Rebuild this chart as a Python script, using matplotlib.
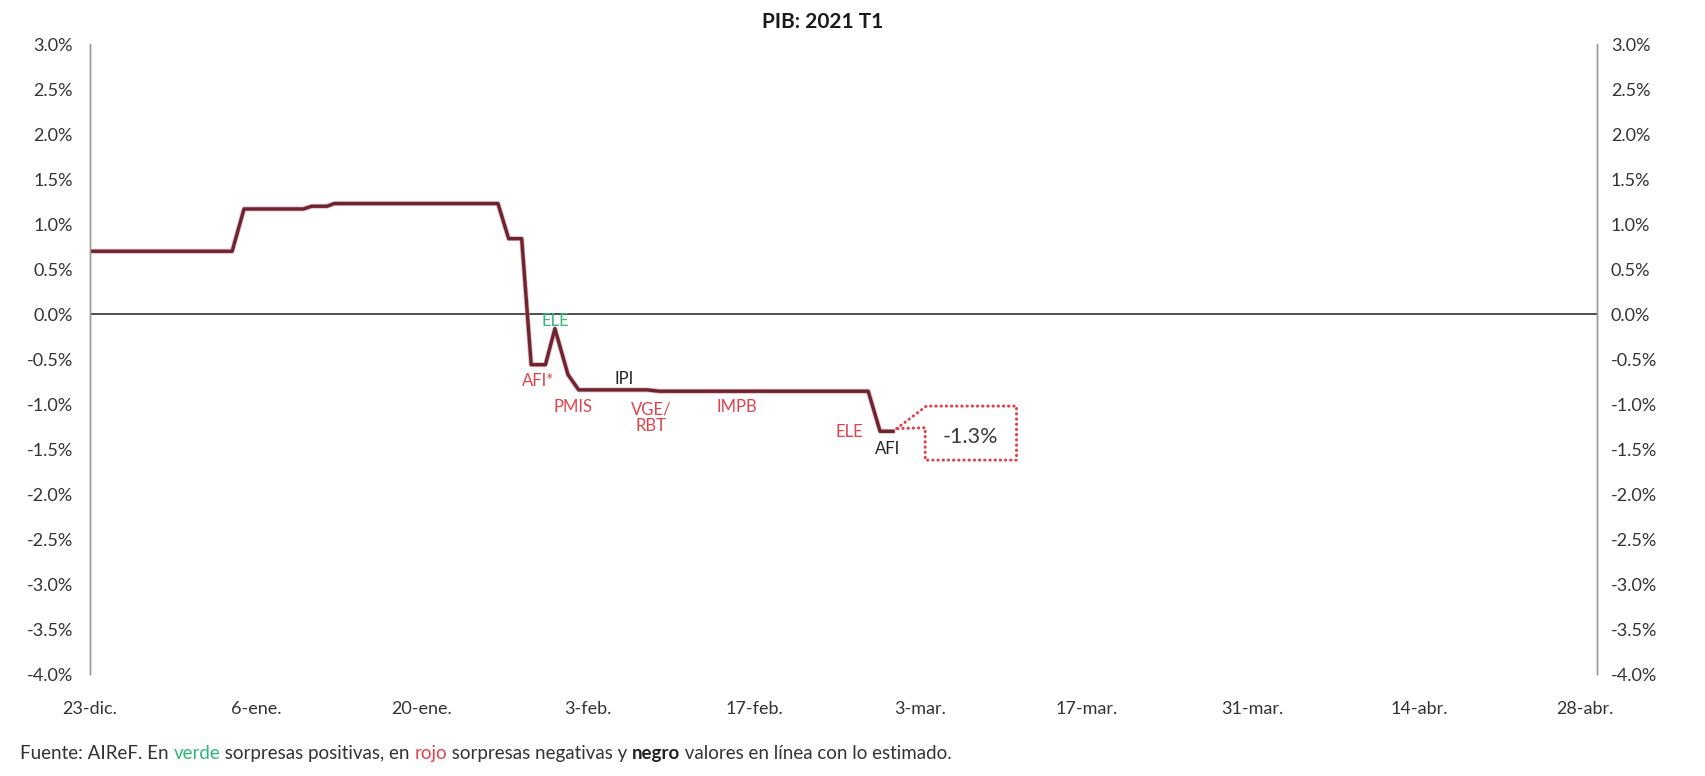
import matplotlib
import matplotlib.pyplot as plt
import matplotlib.ticker as mticker
import numpy as np

matplotlib.rcParams.update(
    {
        "font.family": ["Lato", "DejaVu Sans"],
        "font.size": 12,
    }
)

# ── Datos ──────────────────────────────────────────────────────────────────────
# días desde el 23-dic-2020
DIAS = [0, 12, 13, 18, 18.7, 20, 20.6, 34.4, 35.3, 36.4, 37.2, 38.4, 39.2,
        40.3, 41.2, 47, 48, 65.6, 66.6, 67.7]
PIB = [0.70, 0.70, 1.17, 1.17, 1.20, 1.20, 1.23, 1.23, 0.84, 0.84, -0.56,
       -0.56, -0.16, -0.67, -0.84, -0.84, -0.855, -0.855, -1.30, -1.30]

TICK_DIAS = [0, 14, 28, 42, 56, 70, 84, 98, 112, 126]
TICK_LABELS = ["23-dic.", "6-ene.", "20-ene.", "3-feb.", "17-feb.", "3-mar.",
               "17-mar.", "31-mar.", "14-abr.", "28-abr."]

# etiquetas de indicadores: texto, día, valor, tipo de sorpresa
ETIQUETAS = ["ELE", "AFI*", "PMIS", "IPI", "VGE/\nRBT", "IMPB", "ELE", "AFI"]
ETQ_DIA = [39.2, 37.8, 40.7, 45.0, 47.3, 54.5, 64.0, 67.2]
ETQ_VALOR = [-0.08, -0.74, -1.03, -0.72, -1.15, -1.03, -1.31, -1.50]
ETQ_TIPO = ["pos", "neg", "neg", "neu", "neg", "neg", "neg", "neu"]

VERDE = "#2fb879"
ROJO = "#e0434d"
NEGRO = "#262626"
COLOR_TIPO = {"pos": VERDE, "neg": ROJO, "neu": NEGRO}
COLOR_LINEA = "#6e2330"

# ── Figura ─────────────────────────────────────────────────────────────────────
fig = plt.figure(figsize=(17.06, 7.76), dpi=100)
ax = fig.add_axes([0.0526, 0.131, 0.8834, 0.812])

ax.set_xlim(0, 127)
ax.set_ylim(-4, 3)

ax.axhline(0, color="#404040", lw=1.3, zorder=1)
ax.plot(DIAS, PIB, color="#c98a92", lw=3.6, solid_capstyle="round",
        solid_joinstyle="round", zorder=2, alpha=0.6)
ax.plot(DIAS, PIB, color=COLOR_LINEA, lw=2.4, solid_joinstyle="round", zorder=3)

yt = np.arange(-4, 3.01, 0.5)
fmt = mticker.FuncFormatter(lambda v, _: f"{v:.1f}%")
ax.set_yticks(yt)
ax.yaxis.set_major_formatter(fmt)
ax.set_xticks(TICK_DIAS)
ax.set_xticklabels(TICK_LABELS)
ax.tick_params(axis="y", length=0, pad=12, labelsize=13, labelcolor="#333")
ax.tick_params(axis="x", length=0, pad=19, labelsize=13, labelcolor="#333")

ax2 = ax.twinx()
ax2.set_ylim(-4, 3)
ax2.set_yticks(yt)
ax2.yaxis.set_major_formatter(fmt)
ax2.tick_params(axis="y", length=0, pad=10, labelsize=13, labelcolor="#333")

for a in (ax, ax2):
    a.spines["top"].set_visible(False)
    a.spines["bottom"].set_visible(False)
    a.spines["left"].set_color("#9a9a9a")
    a.spines["right"].set_color("#9a9a9a")
    a.spines["left"].set_linewidth(1)
    a.spines["right"].set_linewidth(1)

# etiquetas de los indicadores
for txt, d, v, t in zip(ETIQUETAS, ETQ_DIA, ETQ_VALOR, ETQ_TIPO):
    ax.text(d, v, txt, ha="center", va="center", fontsize=12,
            color=COLOR_TIPO[t], linespacing=1.1, zorder=4)

# bocadillo con el último valor
x0, y0 = DIAS[-1], PIB[-1]
bx = [x0 + 0.3, x0 + 2.8, x0 + 10.4, x0 + 10.4, x0 + 2.7, x0 + 2.7, x0 + 0.3]
by = [y0 + 0.03, y0 + 0.28, y0 + 0.28, y0 - 0.32, y0 - 0.32, y0 + 0.04, y0 + 0.03]
ax.plot(bx, by, color=ROJO, lw=2.2, ls=(0, (0.1, 1.6)), dash_capstyle="round",
        solid_joinstyle="round", zorder=4)
ax.text(x0 + 6.5, y0 - 0.06, f"{y0:.1f}%", ha="center", va="center",
        fontsize=15.5, color="#3a3a3a")

fig.text(0.482, 0.972, "PIB: 2021 T1", ha="center", va="center",
         fontsize=15, fontweight="bold", color="#1a1a1a")

# fuente con colores
partes = [
    ("Fuente: AIReF. En ", "#333", "normal"),
    ("verde", VERDE, "normal"),
    (" sorpresas positivas, en ", "#333", "normal"),
    ("rojo", ROJO, "normal"),
    (" sorpresas negativas y ", "#333", "normal"),
    ("negro", "#222", "bold"),
    (" valores en línea con lo estimado.", "#333", "normal"),
]
prev = None
for s, c, w in partes:
    if prev is None:
        prev = fig.text(0.0117, 0.022, s, fontsize=13.5, color=c,
                        fontweight=w, va="baseline")
    else:
        prev = ax.annotate(s, xy=(1, 0), xycoords=prev, va="bottom",
                           ha="left", fontsize=13.5, color=c, fontweight=w,
                           annotation_clip=False)

fig.savefig("out.png", dpi=100)
plt.close()
